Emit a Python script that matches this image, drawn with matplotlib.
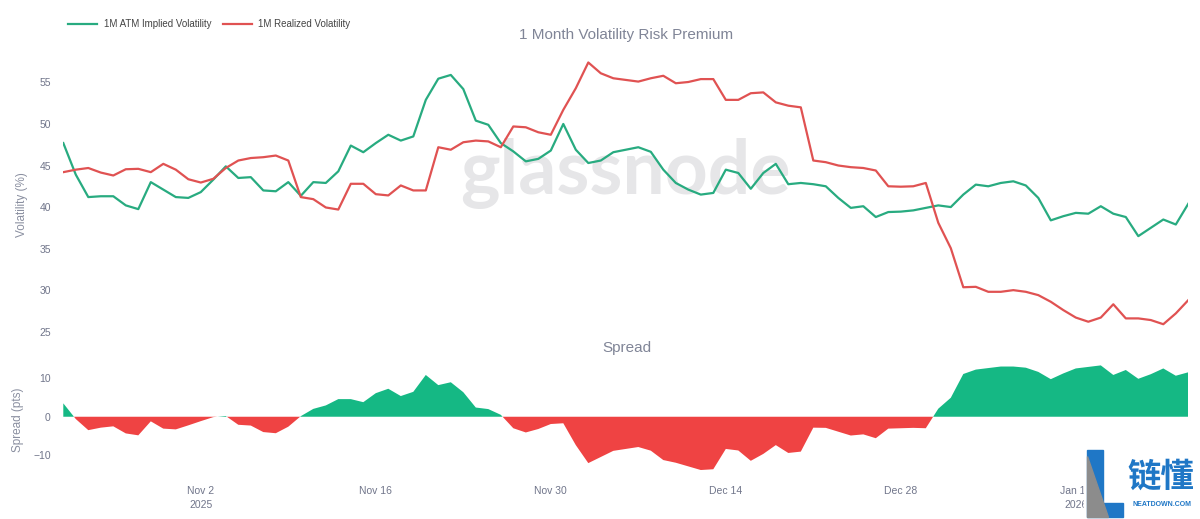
import numpy as np
import pandas as pd
import matplotlib as mpl
mpl.use('Agg')
import matplotlib.pyplot as plt
import matplotlib.dates as mdates
from matplotlib.patches import Polygon, Rectangle

#
#--- data: daily values (Oct 22, 2025 -> Jan 20, 2026)
#
start_date   = '2025-10-22'

implied_vol  = [47.7, 43.9, 41.2, 41.3, 41.3, 40.2, 39.75, 43.0, 42.1, 41.2, 41.1, 41.8,
                43.3, 44.9, 43.5, 43.6, 42.0, 41.9, 43.0, 41.35, 43.0, 42.9, 44.3,
                47.4, 46.6, 47.7, 48.7, 48.0, 48.5, 52.9, 55.45, 55.9, 54.2, 50.4, 49.9,
                47.7, 46.7, 45.5, 45.8, 46.8, 50.0, 46.9, 45.3, 45.6, 46.6,
                46.9, 47.2, 46.65, 44.5, 42.9, 42.1, 41.5, 41.7, 44.5, 44.1, 42.2, 44.1,
                45.2, 42.75, 42.9, 42.75, 42.5, 41.1, 39.9, 40.1, 38.8, 39.4, 39.45,
                39.6, 39.9, 40.2, 40.0, 41.5, 42.7, 42.5, 42.9, 43.1, 42.6, 41.1, 38.4,
                38.9, 39.3, 39.2, 40.1, 39.2, 38.8, 36.5, 37.5, 38.5, 37.9, 40.4]

realized_vol = [44.2, 44.5, 44.7, 44.15, 43.8, 44.55, 44.6, 44.2, 45.2, 44.5, 43.35, 42.95,
                43.4, 44.7, 45.6, 45.9, 46.0, 46.2, 45.6, 41.2, 40.95, 39.95, 39.7,
                42.8, 42.8, 41.55, 41.4, 42.6, 42.0, 42.0, 47.2, 46.9, 47.8, 48.0, 47.9,
                47.2, 49.7, 49.6, 49.0, 48.7, 51.7, 54.3, 57.4, 56.1, 55.5,
                55.3, 55.1, 55.5, 55.8, 54.9, 55.05, 55.4, 55.4, 52.9, 52.9, 53.7, 53.8,
                52.6, 52.2, 52.0, 45.6, 45.4, 45.0, 44.8, 44.7, 44.4, 42.5, 42.45,
                42.5, 42.9, 38.1, 35.05, 30.35, 30.4, 29.8, 29.8, 30.0, 29.8, 29.4, 28.6,
                27.6, 26.7, 26.2, 26.7, 28.3, 26.6, 26.6, 26.4, 25.9, 27.2, 28.8]

tick_dates   = ['2025-11-02', '2025-11-16', '2025-11-30', '2025-12-14', '2025-12-28', '2026-01-11']
tick_labels  = ['Nov 2\n2025', 'Nov 16', 'Nov 30', 'Dec 14', 'Dec 28', 'Jan 11\n2026']
vol_ticks    = [25, 30, 35, 40, 45, 50, 55]
spread_ticks = [-10, 0, 10]

#
#--- colors
#
green_line = '#28ab80'
red_line   = '#e05252'
green_fill = '#15b884'
red_fill   = '#ef4343'
tick_col   = '#70758a'
title_col  = '#808597'

#----------------------------------------------------------------------------------------
#--- plot_vrp: plot volatility lines and the spread panel                             ---
#----------------------------------------------------------------------------------------

def plot_vrp():
    dates  = pd.date_range(start_date, periods=len(implied_vol), freq='D')
    iv     = np.array(implied_vol)
    rv     = np.array(realized_vol)
    spread = iv - rv

    plt.rcParams['font.family'] = ['Liberation Sans', 'DejaVu Sans']

    fig = plt.figure(figsize=(12.0, 5.19), dpi=100)
    W, H = 1200.0, 519.0
#
#--- top panel
#
    ax1 = fig.add_axes([63.3 / W, 1 - 340 / H, 1125 / W, 285 / H])
    ax1.plot(dates, iv, color=green_line, lw=1.6, zorder=3)
    ax1.plot(dates, rv, color=red_line,   lw=1.6, zorder=3)
    ax1.set_ylim(24.0, 58.3)
    ax1.set_yticks(vol_ticks)
    ax1.set_xticks([])
    ax1.text(0.5, 0.585, 'glassnode', transform=ax1.transAxes, ha='center', va='center',
             fontsize=54, color='#e6e6e8', family='Lato', fontweight='bold', zorder=1)
#
#--- bottom panel: spread
#
    ax2 = fig.add_axes([63.3 / W, 1 - 475 / H, 1125 / W, 110 / H])
    ax2.fill_between(dates, spread, 0, where=spread >= 0, interpolate=True,
                     color=green_fill, lw=0)
    ax2.fill_between(dates, spread, 0, where=spread <= 0, interpolate=True,
                     color=red_fill, lw=0)
    ax2.set_ylim(-15.2, 13.5)
    ax2.set_yticks(spread_ticks)
    ax2.set_yticklabels(['\u221210', '0', '10'])
    ax2.set_xticks(pd.to_datetime(tick_dates))
    ax2.set_xticklabels(tick_labels, linespacing=1.5)

    for ax in ax1, ax2:
        ax.set_xlim(dates[0], dates[-1])
        for s in ax.spines.values():
            s.set_visible(False)
        ax.tick_params(axis='both', length=0, labelsize=7.5, labelcolor=tick_col)
        ax.tick_params(axis='y', pad=9)
        ax.tick_params(axis='x', pad=8)
#
#--- titles and axis names
#
    fig.text(626 / W, 1 - 35 / H, '1 Month Volatility Risk Premium', ha='center', va='center',
             fontsize=11, color=title_col)
    fig.text(627 / W, 1 - 348 / H, 'Spread', ha='center', va='center',
             fontsize=11, color=title_col)
    fig.text(22 / W, 1 - 205 / H, 'Volatility (%)', ha='center', va='center', rotation=90,
             fontsize=8.5, color='#8a8fa0')
    fig.text(18 / W, 1 - 420 / H, 'Spread (pts)', ha='center', va='center', rotation=90,
             fontsize=8.5, color='#8a8fa0')
#
#--- legend (top left)
#
    fig.lines.append(plt.Line2D([68 / W, 97 / W], [1 - 24 / H, 1 - 24 / H], color=green_line,
                                lw=1.6, transform=fig.transFigure))
    fig.text(104 / W, 1 - 24 / H, '1M ATM Implied Volatility', ha='left', va='center',
             fontsize=7, color='#444444')
    fig.lines.append(plt.Line2D([223 / W, 252 / W], [1 - 24 / H, 1 - 24 / H], color=red_line,
                                lw=1.6, transform=fig.transFigure))
    fig.text(258 / W, 1 - 24 / H, '1M Realized Volatility', ha='left', va='center',
             fontsize=7, color='#444444')
#
#--- site logo in the bottom right corner
#
    def fp(x, y):
        return (x / W, 1 - y / H)

    fig.patches.append(Rectangle(fp(1084, 519), 116 / W, 71 / H, transform=fig.transFigure,
                                 color='white', zorder=5))
    fig.patches.append(Polygon([fp(1087, 450), fp(1103, 450), fp(1103, 503), fp(1123, 503),
                                fp(1123, 517), fp(1087, 517)], closed=True,
                               transform=fig.transFigure, color='#1f77c6', zorder=6))
    fig.patches.append(Polygon([fp(1087, 456), fp(1087, 517), fp(1108, 517)], closed=True,
                               transform=fig.transFigure, color='#8c8c8c', zorder=7))
    fig.text(1161 / W, 1 - 477 / H, '链懂', ha='center', va='center', fontsize=24,
             color='#1f77c6', fontweight='bold',
             family=['Noto Sans CJK SC', 'DejaVu Sans'], zorder=8)
    fig.text(1162 / W, 1 - 505 / H, 'NEATDOWN.COM', ha='center', va='center', fontsize=5,
             color='#1f77c6', fontweight='bold', zorder=8)

    fig.savefig('out.png', dpi=100)
    plt.close('all')


if __name__ == '__main__':
    plot_vrp()
